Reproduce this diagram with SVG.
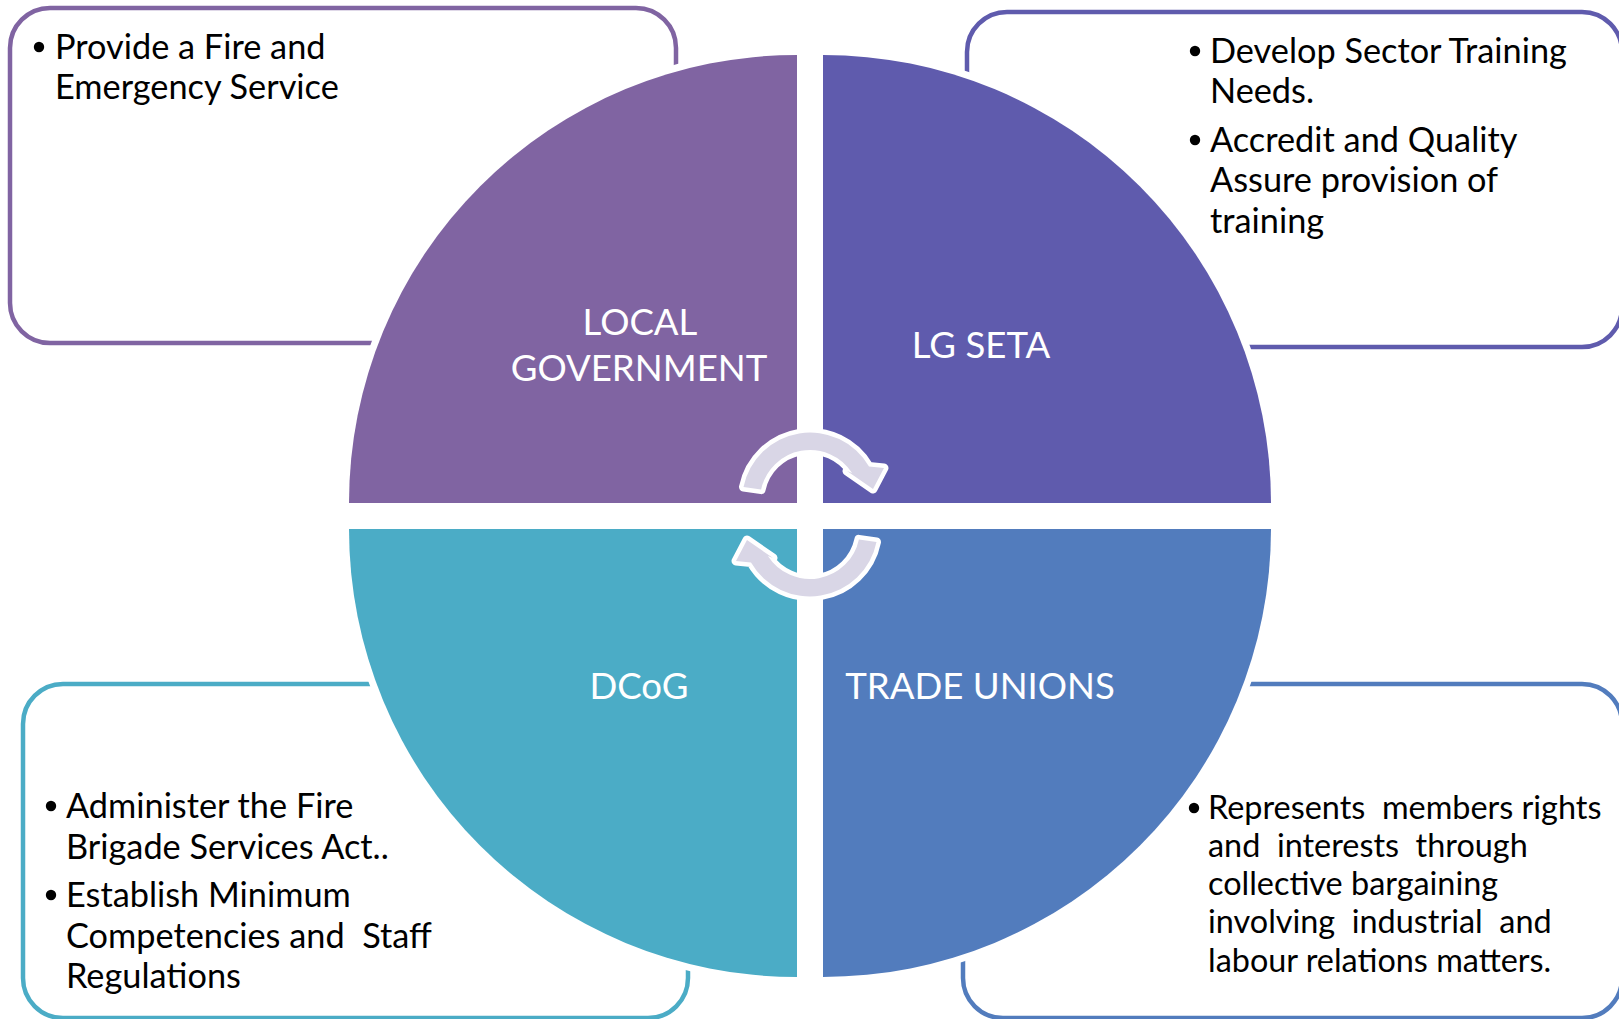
<svg xmlns="http://www.w3.org/2000/svg" width="1619" height="1019" viewBox="0 0 1619 1019">
  <style>
    .box { fill: #FFFFFF; stroke-width: 4.5; }
    .quad { stroke: #FFFFFF; stroke-width: 14; paint-order: stroke; stroke-linejoin: miter; }
    .label { font-family: Lato, "Open Sans", "Liberation Sans", sans-serif; font-size: 36.6px; fill: #FFFFFF; text-anchor: middle; }
    .txt { font-family: Lato, "Open Sans", "Liberation Sans", sans-serif; font-size: 34.3px; fill: #000000; white-space: pre; }
    .txt-sm { font-family: Lato, "Open Sans", "Liberation Sans", sans-serif; font-size: 32.4px; fill: #000000; white-space: pre; }
    .bullet { fill: #000000; }
    .cycle { fill: #D9D6E6; stroke: #FFFFFF; stroke-width: 9; stroke-linejoin: round; paint-order: stroke; }
  </style>

  <!-- description boxes -->
  <g id="box-local-government">
    <rect class="box" x="10" y="8" width="666" height="335" rx="40" stroke="#8064A2"/>
    <circle class="bullet" cx="39" cy="47" r="5.2"/>
    <text class="txt" x="55" y="59">Provide a Fire and</text>
    <text class="txt" x="55" y="99">Emergency Service</text>
  </g>

  <g id="box-lg-seta">
    <rect class="box" x="967" y="12" width="655" height="335" rx="40" stroke="#5F5BAD"/>
    <circle class="bullet" cx="1195" cy="51" r="5.2"/>
    <text class="txt" x="1210" y="63">Develop Sector Training</text>
    <text class="txt" x="1210" y="103">Needs.</text>
    <circle class="bullet" cx="1195" cy="140" r="5.2"/>
    <text class="txt" x="1210" y="152">Accredit and Quality</text>
    <text class="txt" x="1210" y="192">Assure provision of</text>
    <text class="txt" x="1210" y="233">training</text>
  </g>

  <g id="box-dcog">
    <rect class="box" x="23" y="684" width="665" height="334" rx="40" stroke="#4BACC6"/>
    <circle class="bullet" cx="51" cy="806" r="5.2"/>
    <text class="txt" x="66" y="818">Administer the Fire</text>
    <text class="txt" x="66" y="859">Brigade Services Act..</text>
    <circle class="bullet" cx="51" cy="895" r="5.2"/>
    <text class="txt" x="66" y="907">Establish Minimum</text>
    <text class="txt" x="66" y="948">Competencies and  Staff</text>
    <text class="txt" x="66" y="988">Regulations</text>
  </g>

  <g id="box-trade-unions">
    <rect class="box" x="963" y="684" width="659" height="334" rx="40" stroke="#527CBD"/>
    <circle class="bullet" cx="1194" cy="808" r="5.2"/>
    <text class="txt-sm" x="1208" y="819">Represents  members rights</text>
    <text class="txt-sm" x="1208" y="857">and  interests  through</text>
    <text class="txt-sm" x="1208" y="895">collective bargaining</text>
    <text class="txt-sm" x="1208" y="933">involving  industrial  and</text>
    <text class="txt-sm" x="1208" y="972">labour relations matters.</text>
  </g>

  <!-- central split circle -->
  <g id="node-local-government">
    <path class="quad" fill="#8064A2" d="M797 503 L349 503 A448 448 0 0 1 797 55 Z"/>
    <text class="label" x="640" y="335">LOCAL</text>
    <text class="label" x="639" y="381">GOVERNMENT</text>
  </g>
  <g id="node-lg-seta">
    <path class="quad" fill="#5F5BAD" d="M823 503 L823 55 A448 448 0 0 1 1271 503 Z"/>
    <text class="label" x="981" y="358">LG SETA</text>
  </g>
  <g id="node-trade-unions">
    <path class="quad" fill="#527CBD" d="M823 529 L1271 529 A448 448 0 0 1 823 977 Z"/>
    <text class="label" x="980" y="699">TRADE UNIONS</text>
  </g>
  <g id="node-dcog">
    <path class="quad" fill="#4BACC6" d="M797 529 L797 977 A448 448 0 0 1 349 529 Z"/>
    <text class="label" x="639" y="699">DCoG</text>
  </g>

  <!-- circular arrows in the middle -->
  <g id="connectors">
    <defs>
      <path id="cycle-arrow" d="M743.5 487 A68 68 0 0 1 869 466.5 L884 468 L873 489 L847 471 L852.1 473 A50 50 0 0 0 761.1 489.6 Z"/>
    </defs>
    <use href="#cycle-arrow" class="cycle"/>
    <use href="#cycle-arrow" class="cycle" transform="rotate(180 810 514.5)"/>
  </g>
</svg>
